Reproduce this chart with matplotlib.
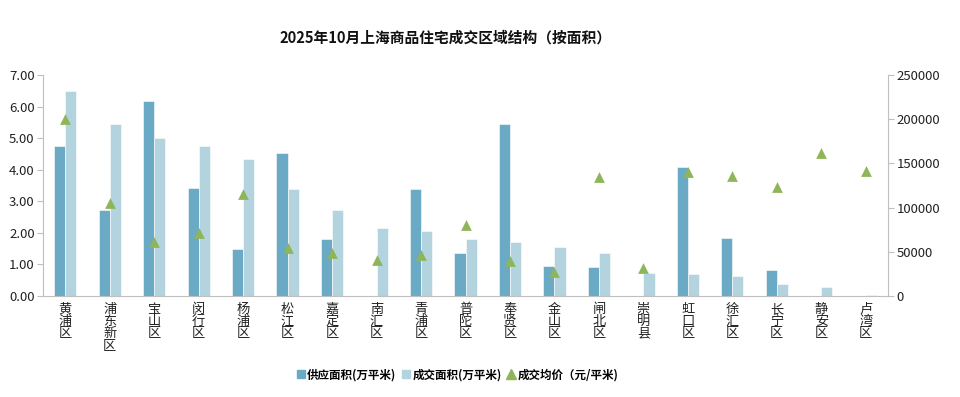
import matplotlib
matplotlib.use("Agg")
import matplotlib.pyplot as plt
from matplotlib.lines import Line2D
import numpy as np

plt.rcParams['font.family'] = ['Noto Sans CJK SC', 'DejaVu Sans']

districts = ["黄浦区", "浦东新区", "宝山区", "闵行区", "杨浦区", "松江区", "嘉定区", "南汇区",
             "青浦区", "普陀区", "奉贤区", "金山区", "闸北区", "崇明县", "虹口区", "徐汇区",
             "长宁区", "静安区", "卢湾区"]
supply_area = [4.75, 2.72, 6.19, 3.42, 1.49, 4.53, 1.80, 0.0, 3.39, 1.35, 5.44, 0.95, 0.92, 0.0,
               4.08, 1.85, 0.81, 0.0, 0.0]
deal_area = [6.49, 5.44, 5.01, 4.75, 4.33, 3.39, 2.72, 2.15, 2.06, 1.80, 1.70, 1.55, 1.37, 0.74,
             0.69, 0.62, 0.38, 0.29, 0.03]
avg_price = [200000, 105500, 61000, 71300, 115000, 54000, 48300, 40700, 46000, 80300, 39200,
             27100, 134300, 31300, 139900, 135400, 123000, 161400, 141700]
left_ticks = [0, 1, 2, 3, 4, 5, 6, 7]
right_ticks = [0, 50000, 100000, 150000, 200000, 250000]

c_supply = "#6BAAC4"
c_deal = "#B3D3DF"
c_price = "#8FB55A"
axis_c = "#BFBFBF"

fig = plt.figure(figsize=(9.6, 3.97), dpi=100)
ax = fig.add_axes([43/960, 1-296/397, (888-43)/960, (296-75)/397])
ax2 = ax.twinx()

x = np.arange(len(districts))
w = 0.25
ax.bar(x - w/2, supply_area, width=w, color=c_supply, edgecolor="white", linewidth=0.4, zorder=2)
ax.bar(x + w/2, deal_area, width=w, color=c_deal, edgecolor="white", linewidth=0.4, zorder=2)
ax2.scatter(x, avg_price, marker="^", s=60, color=c_price, zorder=3, linewidths=0)

ax.set_xlim(-0.5, len(districts) - 0.5)
ax.set_ylim(0, 7)
ax2.set_ylim(0, 250000)
ax.set_yticks(left_ticks)
ax.set_yticklabels([f"{v:.2f}" for v in left_ticks])
ax2.set_yticks(right_ticks)
ax2.set_yticklabels([str(v) for v in right_ticks])
ax.set_xticks(x)
ax.set_xticklabels(["\n".join(d) for d in districts], va="top", linespacing=0.92)

for a in (ax, ax2):
    a.spines["top"].set_visible(False)
    a.spines["left"].set_color(axis_c)
    a.spines["right"].set_color(axis_c)
    a.spines["bottom"].set_color(axis_c)
ax.spines["right"].set_visible(False)
ax2.spines["left"].set_visible(False)
ax2.spines["bottom"].set_visible(False)

ax.tick_params(axis="y", length=4, color=axis_c, labelsize=9.5, labelcolor="#222222", pad=2)
ax2.tick_params(axis="y", length=4, color=axis_c, labelsize=9.5, labelcolor="#222222", pad=2)
ax.tick_params(axis="x", length=0, labelsize=9.5, labelcolor="#222222", pad=5)

fig.text(445/960, 1-38/397, "2025年10月上海商品住宅成交区域结构（按面积）", ha="center", va="center",
         fontsize=10.6, fontweight="bold", color="#111111")

handles = [
    Line2D([], [], marker="s", linestyle="none", color=c_supply, markersize=5.5),
    Line2D([], [], marker="s", linestyle="none", color=c_deal, markersize=5.5),
    Line2D([], [], marker="^", linestyle="none", color=c_price, markersize=6.5),
]
labels = ["供应面积(万平米)", "成交面积(万平米)", "成交均价（元/平米)"]
fig.legend(handles, labels, loc="center", bbox_to_anchor=(457/960, 1-375/397), ncol=3,
           frameon=False, handletextpad=0.1, columnspacing=0.4, handlelength=0.9,
           prop={"weight": "bold", "size": 8.3})

fig.savefig("out.png", dpi=100)
